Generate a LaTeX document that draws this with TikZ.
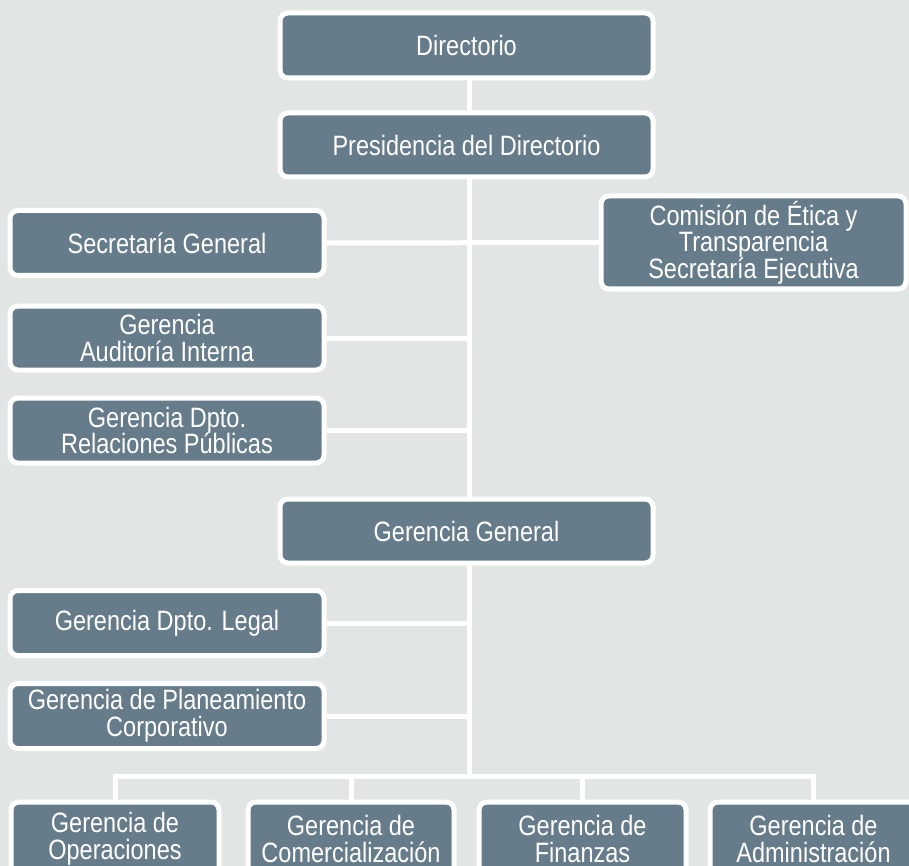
\documentclass[tikz,border=0pt]{standalone}
\usepackage{fontspec}
\setmainfont{Liberation Sans}[FakeStretch=0.84]
\definecolor{bgc}{RGB}{225,230,228}
\definecolor{boxc}{RGB}{102,124,139}
\begin{document}
\begin{tikzpicture}[x=1pt,y=-1pt,
  orgbox/.style={draw=white,line width=5pt,fill=boxc,rounded corners=8pt,
    text=white,align=center,inner sep=0pt,
    font=\fontsize{28}{26.5}\selectfont},
  link/.style={draw=white,line width=5pt}]
\useasboundingbox (0,0) rectangle (909,866);
\fill[bgc] (0,0) rectangle (909,866);
\clip (0,0) rectangle (909,866);

% top
\node[orgbox,minimum width=373pt,minimum height=65pt] (dir) at (466.5,45.5) {Directorio};
\node[orgbox,minimum width=373pt,minimum height=64pt] (pres) at (466.5,145) {Presidencia del Directorio};
\node[orgbox,minimum width=373pt,minimum height=64pt] (gg) at (466.5,531) {Gerencia General};

% left staff
\node[orgbox,minimum width=314pt,minimum height=65pt] (sec) at (167,243) {Secretaría General};
\node[orgbox,minimum width=314pt,minimum height=64pt] (aud) at (167,338) {Gerencia\\Auditoría Interna};
\node[orgbox,minimum width=314pt,minimum height=65pt] (rrpp) at (167,430.5) {Gerencia Dpto.\\Relaciones Públicas};
\node[orgbox,minimum width=314pt,minimum height=65pt] (legal) at (167,623) {Gerencia Dpto. Legal};
\node[orgbox,minimum width=314pt,minimum height=65pt] (plan) at (167,716) {Gerencia de Planeamiento\\Corporativo};

% right
\node[orgbox,minimum width=305pt,minimum height=93pt] (etica) at (753.5,242.5) {Comisión de Ética y\\Transparencia\\Secretaría Ejecutiva};

% bottom
\node[orgbox,minimum width=208pt,minimum height=74pt] (ope) at (115,839) {Gerencia de\\Operaciones};
\node[orgbox,minimum width=206pt,minimum height=74pt] (com) at (351,839) {Gerencia de\\Comercialización};
\node[orgbox,minimum width=207pt,minimum height=74pt] (fin) at (582.5,839) {Gerencia de\\Finanzas};
\node[orgbox,minimum width=207pt,minimum height=74pt] (adm) at (813.5,839) {Gerencia de\\Administración};

% connectors
\coordinate (tx) at (469.5,0);
\coordinate (bus) at (0,776.5);
\draw[link] (dir.south -| tx) -- (pres.north -| tx);
\draw[link] (pres.south -| tx) -- (gg.north -| tx);
\draw[link] (gg.south -| tx) -- (bus -| tx);
\draw[link] (sec.east) -- (etica.west);
\draw[link] (aud.east) -- (aud.east -| tx);
\draw[link] (rrpp.east) -- (rrpp.east -| tx);
\draw[link] (legal.east) -- (legal.east -| tx);
\draw[link] (plan.east) -- (plan.east -| tx);
\draw[link,line cap=rect] (ope.north |- bus) -- (adm.north |- bus);
\draw[link] (ope.north |- bus) -- (ope.north);
\draw[link] (com.north |- bus) -- (com.north);
\draw[link] (fin.north |- bus) -- (fin.north);
\draw[link] (adm.north |- bus) -- (adm.north);
\end{tikzpicture}
\end{document}
